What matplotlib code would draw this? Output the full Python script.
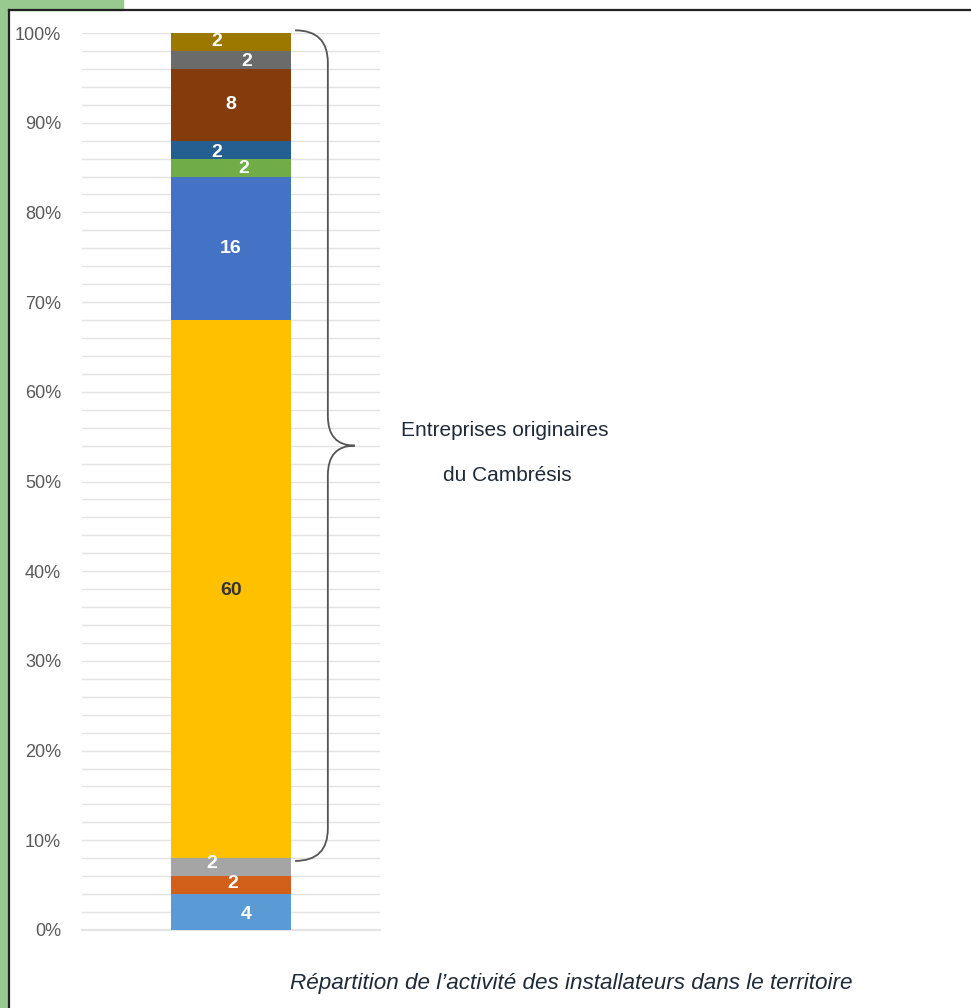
import numpy as np
import matplotlib.pyplot as plt
from matplotlib.path import Path
from matplotlib.patches import PathPatch, Rectangle
from matplotlib.lines import Line2D

plt.rcParams['font.family'] = ['Liberation Sans', 'DejaVu Sans']

# segments from bottom to top
values = [4, 2, 2, 60, 16, 2, 2, 8, 2, 2]
colors = ['#5b9bd5', '#d2601a', '#a5a5a5', '#ffc000', '#4472c4',
          '#70ad47', '#255e91', '#843c0c', '#6b6b6b', '#9c7800']
label_colors = ['white', 'white', 'white', '#333333', 'white',
                'white', 'white', 'white', 'white', 'white']
# label shifts (points) as placed in the original
label_dx = [11, 1, -14, 0, 0, 9, -10, 0, 11, -10]
label_dy = [-2, 1, 3, -1, 0, -1, -2, 0, -1, 0]
ticks = np.arange(0, 101, 10)
brace_from, brace_to = 8, 100
brace_lines = ["Entreprises originaires", "du Cambrésis"]
caption = "Répartition de l’activité des installateurs dans le territoire"

W, H = 971, 1008
fig = plt.figure(figsize=(W / 100, H / 100), dpi=100)
ax = fig.add_axes([82 / W, 78 / H, 298 / W, 897 / H])

bottom = 0
for i, v in enumerate(values):
    ax.bar(0, v, bottom=bottom, width=0.4, color=colors[i], zorder=3)
    ax.annotate(str(v), (0, bottom + v / 2), xytext=(label_dx[i], label_dy[i]),
                textcoords='offset points', ha='center', va='center',
                color=label_colors[i], fontsize=14, fontweight='bold', zorder=4)
    bottom += v

ax.set_xlim(-0.5, 0.5)
ax.set_ylim(0, 100)
ax.set_yticks(ticks)
ax.set_yticklabels([f"{t}%" for t in ticks])
ax.set_yticks(np.arange(0, 101, 2), minor=True)
ax.grid(axis='y', which='both', color='#e3e3e3', lw=1, zorder=0)
ax.axhline(0, color='#e3e3e3', lw=1.5, zorder=1, clip_on=False)
ax.tick_params(axis='y', which='both', length=0, pad=15, labelsize=13, labelcolor='#595959')
ax.set_xticks([])
for s in ax.spines.values():
    s.set_visible(False)

# curly brace
x0, x1, x2 = 0.215, 0.325, 0.415
mid = 54
r = 3.3
verts = [(x0, brace_to + 0.3), (x1, brace_to + 0.3), (x1, brace_to - r),
         (x1, mid + r), (x1, mid), (x2, mid),
         (x1, mid), (x1, mid - r),
         (x1, brace_from + r), (x1, brace_from - 0.3), (x0, brace_from - 0.3)]
codes = [Path.MOVETO, Path.CURVE3, Path.CURVE3,
         Path.LINETO, Path.CURVE3, Path.CURVE3,
         Path.CURVE3, Path.CURVE3,
         Path.LINETO, Path.CURVE3, Path.CURVE3]
ax.add_patch(PathPatch(Path(verts, codes), fill=False, edgecolor='#555555',
                       lw=1.3, clip_on=False, zorder=5))
ax.text(0.918, 55.7, brace_lines[0], ha='center', va='center', fontsize=15,
        color='#1f2a38', clip_on=False)
ax.text(0.928, 50.7, brace_lines[1], ha='center', va='center', fontsize=15,
        color='#1f2a38', clip_on=False)

fig.text(571 / W, 1 - 983 / H, caption, ha='center', va='center',
         fontsize=16.2, style='italic', color='#1f2a38')

# frame decoration
fig.patches.append(Rectangle((0, 1 - 10 / H), 123 / W, 10 / H, transform=fig.transFigure,
                             color='#98ca90', zorder=0))
fig.patches.append(Rectangle((0, 0), 8 / W, 1, transform=fig.transFigure,
                             color='#98ca90', zorder=0))
fig.lines.append(Line2D([8.5 / W, 8.5 / W], [0, 1 - 10 / H], transform=fig.transFigure,
                        color='#222222', lw=1.6))
fig.lines.append(Line2D([8.5 / W, 1], [1 - 10 / H, 1 - 10 / H], transform=fig.transFigure,
                        color='#222222', lw=1.6))

fig.savefig('out.png', dpi=100)
